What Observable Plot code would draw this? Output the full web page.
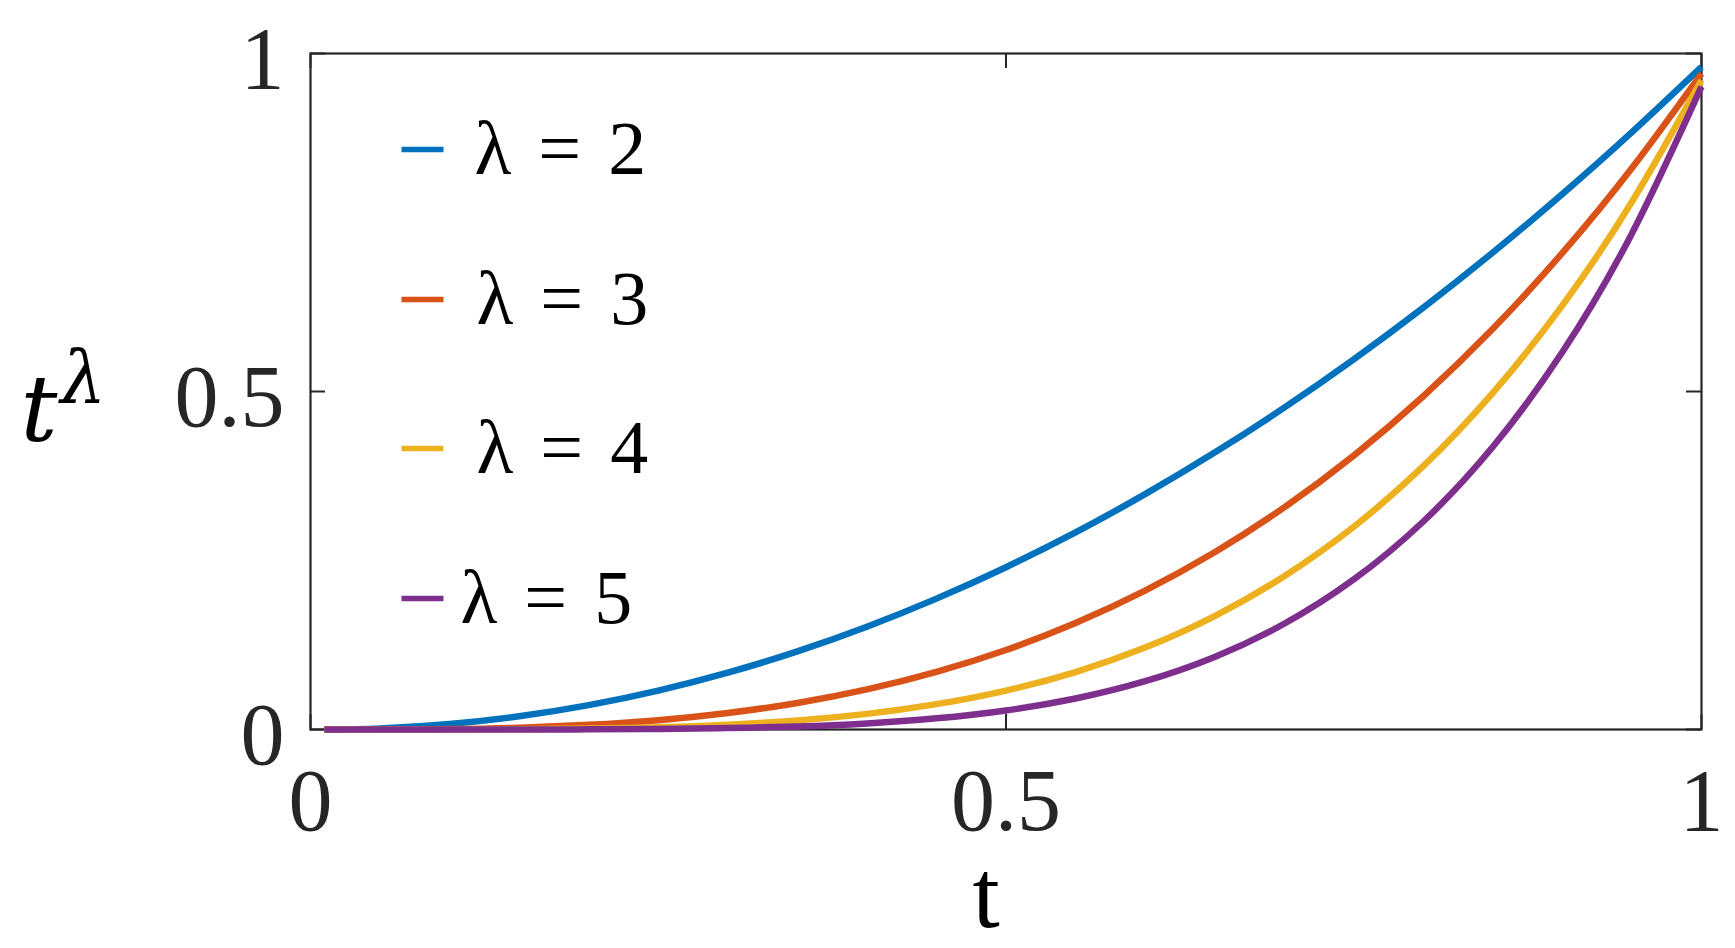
<!DOCTYPE html>
<html>
<head>
<meta charset="utf-8">
<script src="https://cdn.jsdelivr.net/npm/d3@7"></script>
<script src="https://cdn.jsdelivr.net/npm/@observablehq/plot@0.6"></script>
<style>
  html, body { margin: 0; padding: 0; background: #ffffff; }
  #chart svg { display: block; }
</style>
</head>
<body>
<div id="chart"></div>
<script>
// ---- data ----
const lambdas = [2, 3, 4, 5];
const legendLabels = ["λ = 2", "λ = 3", "λ = 4", "λ = 5"];
const seriesColors = ["#0072BD", "#D95319", "#EDB120", "#7E2F8E"];
const tValues = [0.01, 0.05, 0.10, 0.15, 0.20, 0.25, 0.30, 0.35, 0.40, 0.45, 0.50,
                 0.55, 0.60, 0.65, 0.70, 0.75, 0.80, 0.85, 0.90, 0.95, 1.00];
const lambda2 = [0, 0.0016, 0.0081, 0.0196, 0.0361, 0.0576, 0.0841, 0.1156, 0.1521, 0.1936, 0.2401,
                 0.2916, 0.3481, 0.4096, 0.4761, 0.5476, 0.6241, 0.7056, 0.7921, 0.8836, 0.9801];
const lambda3 = [0, 0.0001, 0.0007, 0.0027, 0.0069, 0.0138, 0.0244, 0.0393, 0.0593, 0.0852, 0.1176,
                 0.1575, 0.2054, 0.2621, 0.3285, 0.4052, 0.4930, 0.5927, 0.7050, 0.8306, 0.9703];
const lambda4 = [0, 0.0000, 0.0001, 0.0004, 0.0013, 0.0033, 0.0071, 0.0134, 0.0231, 0.0375, 0.0576,
                 0.0850, 0.1212, 0.1678, 0.2267, 0.2999, 0.3895, 0.4979, 0.6274, 0.7807, 0.9606];
const lambda5 = [0, 0.0000, 0.0000, 0.0001, 0.0002, 0.0008, 0.0021, 0.0045, 0.0090, 0.0165, 0.0282,
                 0.0459, 0.0715, 0.1074, 0.1564, 0.2219, 0.3077, 0.4182, 0.5584, 0.7339, 0.9510];
const xTicks = [0, 0.5, 1];
const yTicks = [0, 0.5, 1];
const xLabel = "t";
const yLabelBase = "t";
const yLabelSup = "λ";

// ---- build table ----
const seriesValues = [lambda2, lambda3, lambda4, lambda5];
const data = lambdas.flatMap((l, i) =>
  tValues.map((t, j) => ({t, v: seriesValues[i][j], lambda: l}))
);

// ---- layout ----
const W = 1735, H = 948;
const mL = 310, mR = 34, mT = 53, mB = 219;
const fw = W - mL - mR, fh = H - mT - mB;
const tickLen = 15;
const axisColor = "#262626";
const serif = "'Liberation Serif', 'Times New Roman', serif";
const mathSerif = "'DejaVu Serif', serif";
const lineShape = {draw(context, l) { context.moveTo(0, 0); context.lineTo(0, -l); }};

const legendMarks = [];
const legendDy = [96, 246, 395, 545];
const legendTextDx = [164, 166, 166, 150];
lambdas.forEach((l, i) => {
  legendMarks.push(Plot.vector([l], {
    frameAnchor: "top-left", dx: 91, dy: legendDy[i],
    length: 42, rotate: 90, anchor: "start", shape: lineShape,
    stroke: seriesColors[i], strokeWidth: 5.5, strokeLinecap: "butt"
  }));
  legendMarks.push(Plot.text([legendLabels[i]], {
    frameAnchor: "top-left", dx: legendTextDx[i], dy: legendDy[i],
    text: d => d, textAnchor: "start", lineAnchor: "middle",
    fontSize: 76, fontFamily: serif, fill: "#000000", className: "legend-text"
  }));
});

const chart = Plot.plot({
  width: W, height: H,
  marginLeft: mL, marginRight: mR, marginTop: mT, marginBottom: mB,
  x: {domain: [0, 1]},
  y: {domain: [0, 1]},
  color: {type: "ordinal", domain: lambdas, range: seriesColors},
  style: {fontFamily: serif, background: "#ffffff", overflow: "visible"},
  marks: [
    Plot.frame({stroke: axisColor, strokeWidth: 2.2}),
    // inward ticks on all four sides
    Plot.tickY(yTicks, {y: d => d, insetRight: fw - tickLen, stroke: axisColor, strokeWidth: 2}),
    Plot.tickY(yTicks, {y: d => d, insetLeft: fw - tickLen, stroke: axisColor, strokeWidth: 2}),
    Plot.tickX(xTicks, {x: d => d, insetTop: fh - tickLen, stroke: axisColor, strokeWidth: 2}),
    Plot.tickX(xTicks, {x: d => d, insetBottom: fh - tickLen, stroke: axisColor, strokeWidth: 2}),
    Plot.axisX(xTicks, {tickSize: 0, tickPadding: 38, fontSize: 88, color: axisColor,
                        tickFormat: d => String(d), label: null}),
    Plot.axisY(yTicks, {tickSize: 0, tickPadding: 26, fontSize: 88, color: axisColor,
                        tickFormat: d => String(d), label: null, dy: 6}),
    Plot.line(data, {x: "t", y: "v", z: "lambda", stroke: "lambda",
                     strokeWidth: 6.5, curve: "natural", strokeLinecap: "butt"}),
    // axis labels
    Plot.text([xLabel], {frameAnchor: "bottom", text: d => d, dx: -20, dy: 166,
                         fontSize: 98, fontFamily: serif, fill: "#000000", lineAnchor: "middle"}),
    Plot.text([yLabelBase], {frameAnchor: "left", text: d => d, dx: -290, dy: 20,
                             textAnchor: "start", fontSize: 92, fontStyle: "italic",
                             fontFamily: mathSerif, fill: "#000000", lineAnchor: "middle"}),
    Plot.text([yLabelSup], {frameAnchor: "left", text: d => d, dx: -250, dy: -12,
                            textAnchor: "start", fontSize: 72, fontStyle: "italic",
                            fontFamily: mathSerif, fill: "#000000", lineAnchor: "middle"}),
    ...legendMarks
  ]
});
d3.select(chart).selectAll(".legend-text text").attr("word-spacing", "8px");
document.getElementById("chart").appendChild(chart);
</script>
</body>
</html>
